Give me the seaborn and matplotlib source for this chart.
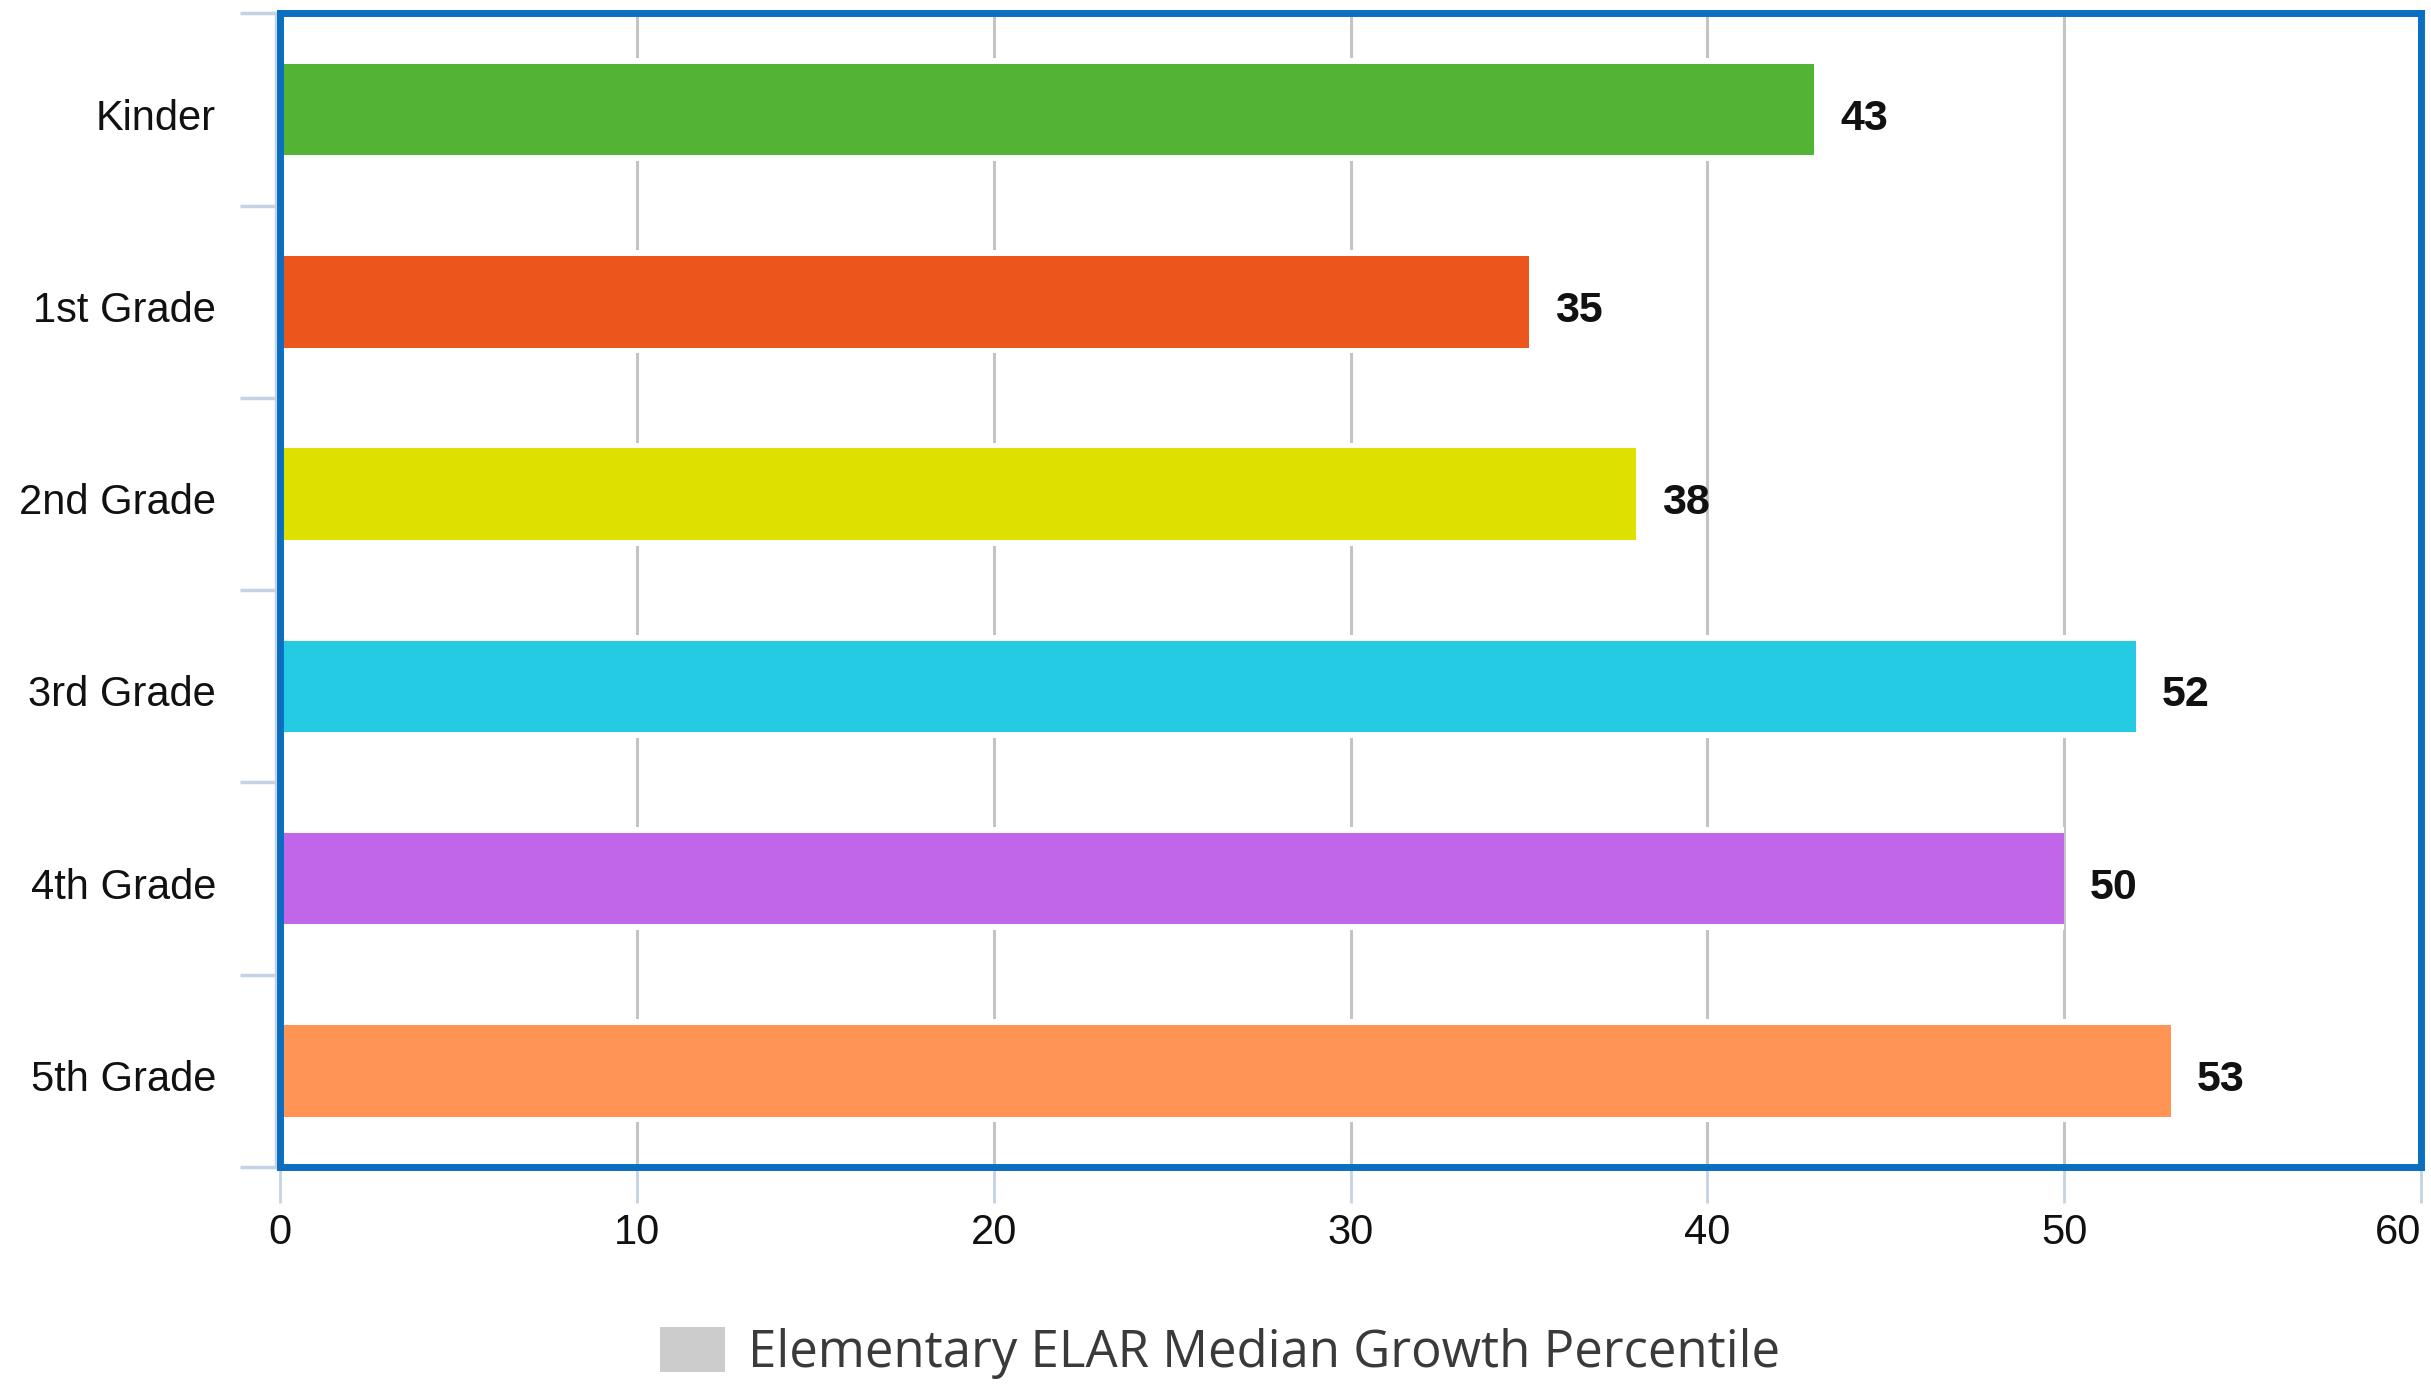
import matplotlib
matplotlib.use("Agg")
import matplotlib.pyplot as plt
from matplotlib.patches import Patch
from matplotlib.ticker import FixedLocator
from matplotlib.transforms import ScaledTranslation
import seaborn as sns
import pandas as pd

# Median growth percentile by grade
grades = ["Kinder", "1st Grade", "2nd Grade", "3rd Grade", "4th Grade", "5th Grade"]
percentiles = [43, 35, 38, 52, 50, 53]
bar_colors = ["#52B334", "#EC561D", "#DEE000", "#24CBE3", "#C166E8", "#FF9455"]
x_ticks = [0, 10, 20, 30, 40, 50, 60]
series_name = "Elementary ELAR Median Growth Percentile"

df = pd.DataFrame({"grade": grades, "value": percentiles})

sns.set_theme(style="white")
plt.rcParams["font.family"] = ["Liberation Sans", "DejaVu Sans"]

fig = plt.figure(figsize=(24.31, 13.86), dpi=100)
ax = fig.add_axes([0.1152, 0.158, 0.9959 - 0.1152, 0.9903 - 0.158])

# white halo so the gridlines stop just short of each bar
sns.barplot(data=df, x="value", y="grade", orient="h", color="white",
            width=0.535, linewidth=0, saturation=1, ax=ax)
sns.barplot(data=df, x="value", y="grade", hue="grade", orient="h",
            palette=bar_colors, width=0.477, linewidth=0, saturation=1,
            legend=False, ax=ax)

ax.set_xlim(0, 60)
ax.set_ylim(5.5, -0.5)
ax.set_xlabel("")
ax.set_ylabel("")

# value labels
for i, v in enumerate(percentiles):
    ax.annotate(str(v), xy=(v, i), xytext=(18.5, -6.5), textcoords="offset points",
                ha="left", va="center", fontsize=31, fontweight="bold", color="#111111")

# gridlines
ax.set_axisbelow(True)
ax.grid(axis="x", color="#C4C4C4", linewidth=2.2)
ax.grid(axis="y", visible=False)

# blue frame
for side in ["left", "right", "top", "bottom"]:
    ax.spines[side].set_visible(True)
    ax.spines[side].set_color("#0B6FC1")
    ax.spines[side].set_linewidth(5.0)
    ax.spines[side].set_zorder(5)

# faint axis line just outside the left frame
tick_col = "#C3D3E4"
ax.plot([0, 0], [0, 1], transform=ax.transAxes + ScaledTranslation(-4 / 100, 0, fig.dpi_scale_trans),
        color=tick_col, linewidth=2.5, clip_on=False, zorder=4)

# ticks
ax.set_xticks(x_ticks)
ax.set_xticklabels([str(t) for t in x_ticks])
ax.tick_params(axis="x", which="major", direction="out", length=26, width=2.0,
               color=tick_col, labelsize=30, labelcolor="#111111", pad=7, bottom=True)
ax.xaxis.get_ticklabels()[-1].set_horizontalalignment("right")

ax.yaxis.set_minor_locator(FixedLocator([k - 0.5 for k in range(len(grades) + 1)]))
ax.tick_params(axis="y", which="minor", direction="out", length=29, width=2.5,
               color=tick_col, left=True)
ax.tick_params(axis="y", which="major", length=0, labelsize=30,
               labelcolor="#111111", pad=46)
shift = ScaledTranslation(0, -4.5 / 100, fig.dpi_scale_trans)
for lbl in ax.get_yticklabels():
    lbl.set_transform(lbl.get_transform() + shift)

# legend
handle = Patch(facecolor="#CCCCCC", edgecolor="none", label=series_name)
fig.legend(handles=[handle], loc="center", bbox_to_anchor=(0.502, 0.024),
           frameon=False, handlelength=1.28, handleheight=0.98,
           handletextpad=0.45, labelcolor="#3A3A3A",
           prop={"family": ["Open Sans", "DejaVu Sans"], "size": 36.6})

fig.savefig("out.png", dpi=100, facecolor="white")
